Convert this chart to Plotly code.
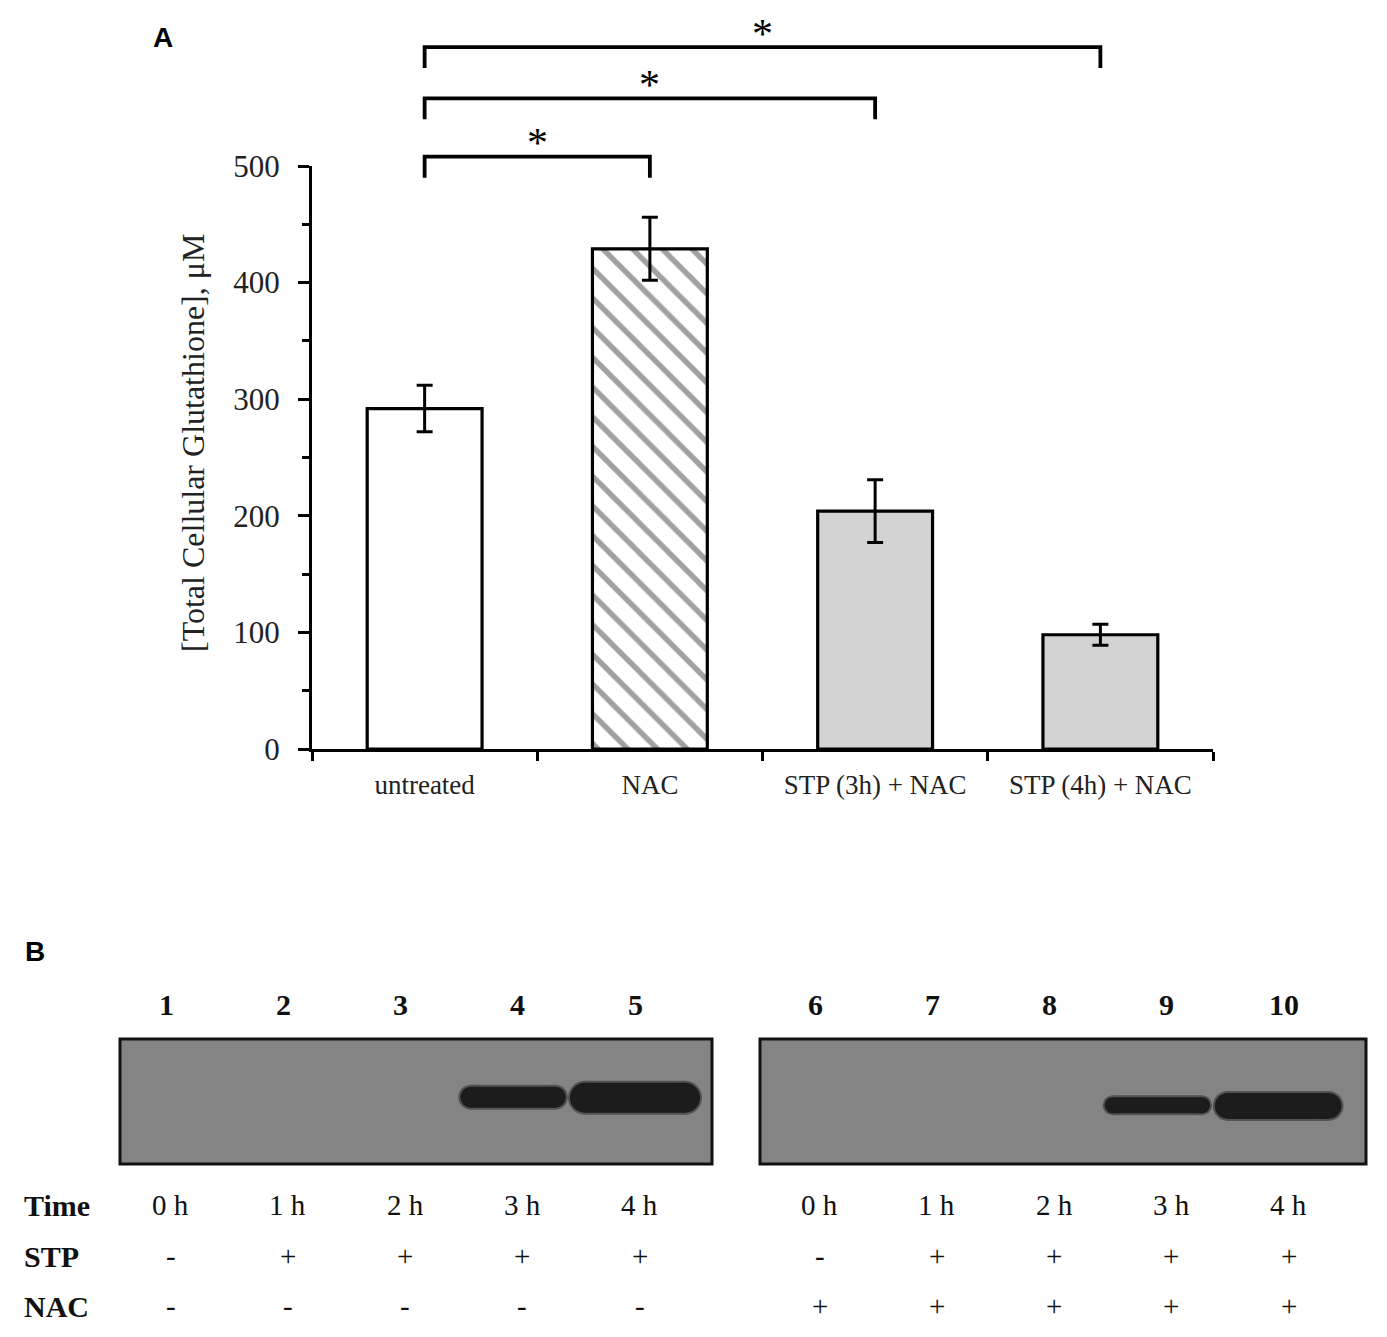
import plotly.graph_objects as go

W, H = 1387, 1337
OFF = 8  # the page body adds an 8px margin, positions are shifted back by it

# ---- panel A data ----
groups = ["untreated", "NAC", "STP (3h) + NAC", "STP (4h) + NAC"]
glutathione = [292, 429, 204, 98]
glutathione_err = [20, 27, 27, 9]
bar_colors = ["white", "white", "#d3d3d3", "#d3d3d3"]
bar_patterns = ["", "\\", "", ""]

# significance brackets (from group, to group, bracket height in uM)
sig_from = ["untreated", "untreated", "untreated"]
sig_to = ["NAC", "STP (3h) + NAC", "STP (4h) + NAC"]
sig_height = [508, 558, 602]
sig_text = ["*", "*", "*"]

# ---- panel B data ----
lanes = [1, 2, 3, 4, 5, 6, 7, 8, 9, 10]
time_labels = ["0 h", "1 h", "2 h", "3 h", "4 h", "0 h", "1 h", "2 h", "3 h", "4 h"]
stp = ["-", "+", "+", "+", "+", "-", "+", "+", "+", "+"]
nac = ["-", "-", "-", "-", "-", "+", "+", "+", "+", "+"]
band_x = [3.96, 5.0, 8.92, 9.95]           # band centre, lane units
band_span = [0.90, 1.11, 0.90, 1.08]       # band length, lane units
band_y = [0.535, 0.53, 0.47, 0.465]        # height in blot (0 bottom, 1 top)
band_thick = [21, 30, 16, 26]              # band thickness, px


def fx(p):
    return (p - OFF) / W


def fy(p):
    return 1 - (p - OFF) / H


serif = "Liberation Serif"
px_per_unit = (749 - 166) / 500
px_per_lane = 117.25

fig = go.Figure()

fig.add_trace(go.Bar(
    x=groups, y=glutathione, width=0.51,
    marker=dict(color=bar_colors, line=dict(color="black", width=3.2),
                pattern=dict(shape=bar_patterns, fgcolor="#d4d4d4", size=21, solidity=0.26)),
    error_y=dict(type="data", array=glutathione_err, color="black", thickness=3, width=8),
    xaxis="x", yaxis="y", showlegend=False,
))

# brackets on an invisible axis with the same scale as the bar axis
for a, b, h in zip(sig_from, sig_to, sig_height):
    fig.add_trace(go.Scatter(
        x=[a, a, b, b], y=[h - 18, h, h, h - 18], mode="lines",
        line=dict(color="black", width=3.8), xaxis="x2", yaxis="y2",
        showlegend=False, hoverinfo="skip",
    ))
for a, b, h, t in zip(sig_from, sig_to, sig_height, sig_text):
    fig.add_annotation(x=(groups.index(a) + groups.index(b)) / 2, y=h - 10, xref="x2", yref="y2",
                       text=t, showarrow=False, xanchor="center", yanchor="bottom",
                       font=dict(family=serif, size=42, color="black"))

# western blot panels
row_px = {"Time": 1205, "STP": 1256, "NAC": 1306}
for side, xa, ya in [(0, "x3", "y3"), (1, "x4", "y4")]:
    fig.add_shape(type="rect", xref=xa + " domain", yref=ya + " domain", x0=0, x1=1, y0=0, y1=1,
                  fillcolor="#848484", line=dict(color="#111111", width=3), layer="below")
    sl = slice(side * 5, side * 5 + 5)
    for ln, t, s, n in zip(lanes[sl], time_labels[sl], stp[sl], nac[sl]):
        fig.add_annotation(x=ln, y=fy(1004), xref=xa, yref="paper", text="<b>%d</b>" % ln,
                           showarrow=False, xanchor="center", yanchor="middle",
                           font=dict(family=serif, size=30, color="#111111"))
        for lab, val in [("Time", t), ("STP", s), ("NAC", n)]:
            fig.add_annotation(x=ln + 0.04, y=fy(row_px[lab]), xref=xa, yref="paper", text=val,
                               showarrow=False, xanchor="center", yanchor="middle",
                               font=dict(family=serif, size=29, color="#111111"))

for bx, bs, by, bt in zip(band_x, band_span, band_y, band_thick):
    xa, ya = ("x3", "y3") if bx < 5.8 else ("x4", "y4")
    r = bt / 2 / px_per_lane
    for extra, col, op in [(4, "#2c2c2c", 0.55), (0, "#1c1c1c", 1.0)]:
        fig.add_trace(go.Scatter(
            x=[bx - bs / 2 + r, bx + bs / 2 - r], y=[by, by], mode="lines+markers",
            line=dict(color=col, width=bt + extra), marker=dict(color=col, size=bt + extra, line=dict(width=0)),
            opacity=op, xaxis=xa, yaxis=ya, showlegend=False, hoverinfo="skip",
        ))

for lab in ["Time", "STP", "NAC"]:
    fig.add_annotation(x=fx(22), y=fy(row_px[lab]), xref="paper", yref="paper", xanchor="left",
                       yanchor="middle", text="<b>%s</b>" % lab, showarrow=False,
                       font=dict(family=serif, size=30, color="#111111"))

fig.add_annotation(x=fx(193), y=fy(443), xref="paper", yref="paper", textangle=-90,
                   xanchor="center", yanchor="middle",
                   text="[Total Cellular Glutathione], \u03bcM", showarrow=False,
                   font=dict(family=serif, size=32, color="#222222"))
fig.add_annotation(x=fx(163), y=fy(38), xref="paper", yref="paper", text="<b>A</b>", showarrow=False,
                   xanchor="center", yanchor="middle",
                   font=dict(family="Liberation Sans", size=28, color="black"))
fig.add_annotation(x=fx(35), y=fy(951), xref="paper", yref="paper", text="<b>B</b>", showarrow=False,
                   xanchor="center", yanchor="middle",
                   font=dict(family="Liberation Sans", size=28, color="black"))

hidden = dict(visible=False, showgrid=False, zeroline=False)
fig.update_layout(
    width=W, height=H, margin=dict(l=0, r=0, t=0, b=0, pad=0, autoexpand=False),
    paper_bgcolor="white", plot_bgcolor="rgba(0,0,0,0)",
    xaxis=dict(domain=[fx(312), fx(1213)], range=[-0.5, 3.5], type="category", categoryarray=groups,
               tickson="boundaries", ticks="outside", ticklen=9, tickwidth=3, tickcolor="black",
               showline=True, linewidth=3, linecolor="black", showgrid=False, ticklabelstandoff=10,
               tickfont=dict(family=serif, size=27, color="#222222"), anchor="y"),
    yaxis=dict(domain=[fy(749), fy(166)], range=[0, 500], dtick=100, ticks="outside", ticklen=11,
               tickwidth=3, tickcolor="black", showline=True, linewidth=3, linecolor="black",
               showgrid=False, zeroline=False, ticklabelstandoff=12,
               minor=dict(dtick=50, ticks="outside", ticklen=7, tickwidth=3, tickcolor="black", showgrid=False),
               tickfont=dict(family=serif, size=31, color="#222222"), anchor="x"),
    xaxis2=dict(domain=[fx(312), fx(1213)], range=[-0.5, 3.5], type="category", categoryarray=groups,
                anchor="y2", **hidden),
    yaxis2=dict(domain=[fy(749), fy(8)], range=[0, (749 - 8) / px_per_unit], anchor="x2", **hidden),
    xaxis3=dict(domain=[fx(120), fx(712)], range=[1 - 46 / px_per_lane, 5 + 77 / px_per_lane],
                anchor="y3", **hidden),
    yaxis3=dict(domain=[fy(1164), fy(1039)], range=[0, 1], anchor="x3", **hidden),
    xaxis4=dict(domain=[fx(760), fx(1366)], range=[6 - 55 / px_per_lane, 10 + 82 / px_per_lane],
                anchor="y4", **hidden),
    yaxis4=dict(domain=[fy(1164), fy(1039)], range=[0, 1], anchor="x4", **hidden),
)

fig.write_html("out.html")
